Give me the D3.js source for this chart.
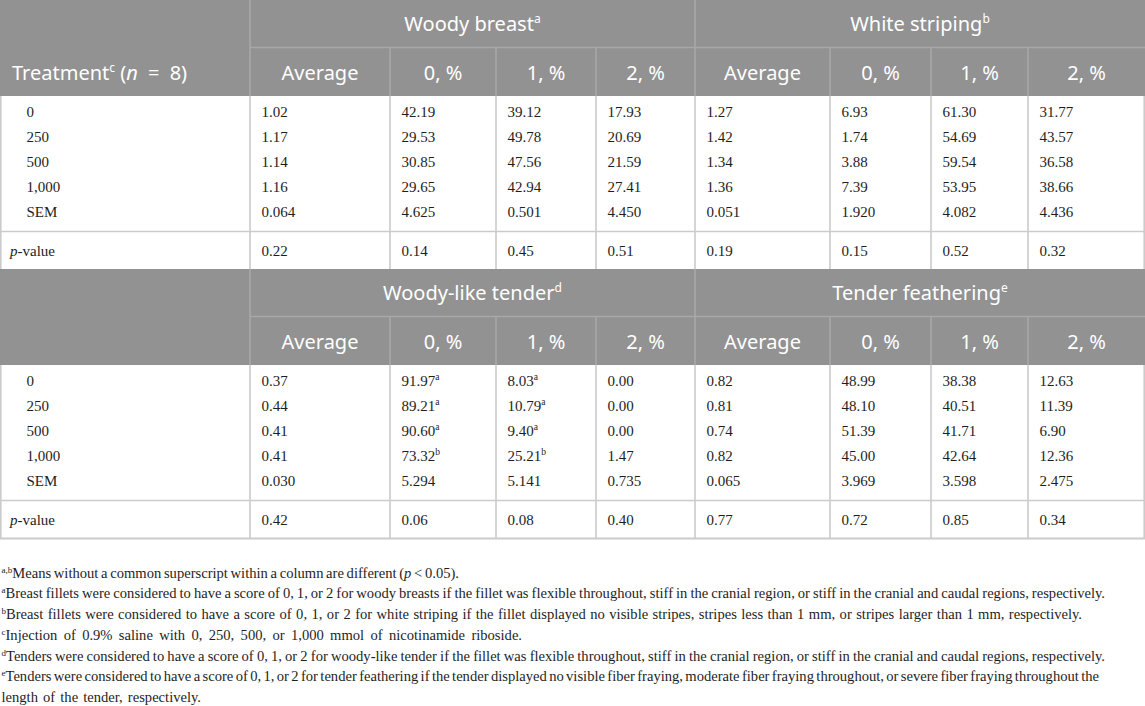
<!DOCTYPE html>
<html>
<head>
<meta charset="utf-8">
<script src="https://cdn.jsdelivr.net/npm/d3@7"></script>
<style>
  body { margin: 0; background: #fff; }
  svg { display: block; }
</style>
</head>
<body>
<script>
var treatments = ["0", "250", "500", "1,000", "SEM"];
var colLabels = ["Average", "0, %", "1, %", "2, %"];

var woodyBreast = [
  ["1.02", "42.19", "39.12", "17.93"],
  ["1.17", "29.53", "49.78", "20.69"],
  ["1.14", "30.85", "47.56", "21.59"],
  ["1.16", "29.65", "42.94", "27.41"],
  ["0.064", "4.625", "0.501", "4.450"]
];
var woodyBreastP = ["0.22", "0.14", "0.45", "0.51"];

var whiteStriping = [
  ["1.27", "6.93", "61.30", "31.77"],
  ["1.42", "1.74", "54.69", "43.57"],
  ["1.34", "3.88", "59.54", "36.58"],
  ["1.36", "7.39", "53.95", "38.66"],
  ["0.051", "1.920", "4.082", "4.436"]
];
var whiteStripingP = ["0.19", "0.15", "0.52", "0.32"];

var woodyLikeTender = [
  ["0.37", "91.97", "8.03", "0.00"],
  ["0.44", "89.21", "10.79", "0.00"],
  ["0.41", "90.60", "9.40", "0.00"],
  ["0.41", "73.32", "25.21", "1.47"],
  ["0.030", "5.294", "5.141", "0.735"]
];
var woodyLikeTenderSup = [
  ["", "a", "a", ""],
  ["", "a", "a", ""],
  ["", "a", "a", ""],
  ["", "b", "b", ""],
  ["", "", "", ""]
];
var woodyLikeTenderP = ["0.42", "0.06", "0.08", "0.40"];

var tenderFeathering = [
  ["0.82", "48.99", "38.38", "12.63"],
  ["0.81", "48.10", "40.51", "11.39"],
  ["0.74", "51.39", "41.71", "6.90"],
  ["0.82", "45.00", "42.64", "12.36"],
  ["0.065", "3.969", "3.598", "2.475"]
];
var tenderFeatheringP = ["0.77", "0.72", "0.85", "0.34"];

var footnotes = [
  {sup: "a,b", text: "Means without a common superscript within a column are different (", italic: "p", after: " < 0.05)."},
  {sup: "a", text: "Breast fillets were considered to have a score of 0, 1, or 2 for woody breasts if the fillet was flexible throughout, stiff in the cranial region, or stiff in the cranial and caudal regions, respectively."},
  {sup: "b", text: "Breast fillets were considered to have a score of 0, 1, or 2 for white striping if the fillet displayed no visible stripes, stripes less than 1 mm, or stripes larger than 1 mm, respectively."},
  {sup: "c", text: "Injection of 0.9% saline with 0, 250, 500, or 1,000 mmol of nicotinamide riboside."},
  {sup: "d", text: "Tenders were considered to have a score of 0, 1, or 2 for woody-like tender if the fillet was flexible throughout, stiff in the cranial region, or stiff in the cranial and caudal regions, respectively."},
  {sup: "e", text: "Tenders were considered to have a score of 0, 1, or 2 for tender feathering if the tender displayed no visible fiber fraying, moderate fiber fraying throughout, or severe fiber fraying throughout the"},
  {sup: "", text: "length of the tender, respectively."}
];
// right end of each footnote line in the picture
var footnoteEnds = [459, 1105, 1082, 522, 1105, 1099, 201];

// ---- layout ----
var width = 1145, height = 706;
var edges = [0, 250, 390, 496, 596, 695, 830, 931, 1028, 1145];
var headFill = "#929292", headLine = "#a8a8a8", gridLine = "#cbcbcb", ink = "#1e1e1e";
var sans = "'Noto Sans', 'Open Sans', sans-serif";
var serif = "'Liberation Serif', 'Times New Roman', serif";
var blockH = 269;

var svg = d3.select("body").append("svg")
    .attr("width", width)
    .attr("height", height);

// row positions inside a block
var y = d3.scalePoint()
    .domain(treatments)
    .range([117, 217]);

var tables = [
  {top: 0, groups: [
    {title: "Woody breast", sup: "a", rows: woodyBreast, p: woodyBreastP},
    {title: "White striping", sup: "b", rows: whiteStriping, p: whiteStripingP}
  ]},
  {top: blockH, groups: [
    {title: "Woody-like tender", sup: "d", rows: woodyLikeTender, p: woodyLikeTenderP, sups: woodyLikeTenderSup},
    {title: "Tender feathering", sup: "e", rows: tenderFeathering, p: tenderFeatheringP}
  ]}
];

tables.forEach(function(t, ti) {
  var g = svg.append("g").attr("transform", "translate(0," + t.top + ")");

  // header band
  g.append("rect")
      .attr("x", 0).attr("y", 0)
      .attr("width", width).attr("height", 96)
      .attr("fill", headFill);

  g.append("line")
      .attr("x1", 250).attr("x2", width)
      .attr("y1", 47.5).attr("y2", 47.5)
      .attr("stroke", headLine).attr("stroke-width", 1.5);

  // header verticals: full height at group borders, lower row otherwise
  edges.slice(1, -1).forEach(function(x, i) {
    var full = (x == 250 || x == 695);
    g.append("line")
        .attr("x1", x).attr("x2", x)
        .attr("y1", full ? 0 : 47.5).attr("y2", 96)
        .attr("stroke", headLine).attr("stroke-width", 1.5);
  });

  if (ti == 0) {
    var tr = g.append("text")
        .attr("x", 12).attr("y", 80)
        .attr("fill", "#fff")
        .style("font", "20px " + sans);
    tr.append("tspan").text("Treatment");
    tr.append("tspan").attr("dy", -8).style("font-size", "12px").text("c");
    tr.append("tspan").attr("dy", 8).text(" (");
    tr.append("tspan").style("font-style", "italic").text("n");
    tr.append("tspan").style("word-spacing", "5px").text(" = 8)");
  }

  t.groups.forEach(function(grp, gi) {
    var x0 = edges[1 + gi * 4], x1 = edges[5 + gi * 4];
    var title = g.append("text")
        .attr("x", (x0 + x1) / 2).attr("y", 31)
        .attr("text-anchor", "middle")
        .attr("fill", "#fff")
        .style("font", "20px " + sans);
    title.append("tspan").text(grp.title);
    title.append("tspan").attr("dy", -8).style("font-size", "12px").text(grp.sup);

    colLabels.forEach(function(lab, ci) {
      var c0 = edges[1 + gi * 4 + ci], c1 = edges[2 + gi * 4 + ci];
      g.append("text")
          .attr("x", (c0 + c1) / 2).attr("y", 80)
          .attr("text-anchor", "middle")
          .attr("fill", "#fff")
          .style("font", "20px " + sans)
          .text(lab);
    });

    // body cells
    grp.rows.forEach(function(row, ri) {
      row.forEach(function(v, ci) {
        var cx = edges[1 + gi * 4 + ci] + 11.5;
        var txt = g.append("text")
            .attr("x", cx).attr("y", y(treatments[ri]))
            .attr("fill", ink)
            .style("font", "15px " + serif);
        txt.append("tspan").text(v);
        var s = grp.sups ? grp.sups[ri][ci] : "";
        if (s) txt.append("tspan").attr("dy", -6).style("font-size", "9.5px").text(s);
      });
    });
    grp.p.forEach(function(v, ci) {
      g.append("text")
          .attr("x", edges[1 + gi * 4 + ci] + 11.5).attr("y", 256)
          .attr("fill", ink)
          .style("font", "15px " + serif)
          .text(v);
    });
  });

  // row labels
  treatments.forEach(function(lab) {
    g.append("text")
        .attr("x", 26.5).attr("y", y(lab))
        .attr("fill", ink)
        .style("font", "15px " + serif)
        .text(lab);
  });
  var pl = g.append("text")
      .attr("x", 10).attr("y", 256)
      .attr("fill", ink)
      .style("font", "15px " + serif);
  pl.append("tspan").style("font-style", "italic").text("p");
  pl.append("tspan").text("-value");

  // body grid
  edges.slice(1, -1).forEach(function(x) {
    g.append("line")
        .attr("x1", x).attr("x2", x)
        .attr("y1", 96).attr("y2", blockH)
        .attr("stroke", gridLine).attr("stroke-width", 1.6);
  });
  [0.8, width - 0.8].forEach(function(x) {
    g.append("line")
        .attr("x1", x).attr("x2", x)
        .attr("y1", 96).attr("y2", blockH)
        .attr("stroke", gridLine).attr("stroke-width", 1.6);
  });
  g.append("line")
      .attr("x1", 0).attr("x2", width)
      .attr("y1", 231.5).attr("y2", 231.5)
      .attr("stroke", gridLine).attr("stroke-width", 1.6);
  if (ti == tables.length - 1) {
    g.append("line")
        .attr("x1", 0).attr("x2", width)
        .attr("y1", blockH + 0.5).attr("y2", blockH + 0.5)
        .attr("stroke", gridLine).attr("stroke-width", 2);
  }
});

// ---- footnotes ----
var fn = svg.append("g");
var fnBase = d3.scaleLinear().domain([0, 6]).range([577.5, 702]);
var fs = 14;

var fnTexts = footnotes.map(function(f, i) {
  var t = fn.append("text")
      .attr("x", 1.5).attr("y", fnBase(i))
      .attr("fill", ink)
      .style("font-family", serif)
      .style("font-size", fs + "px");
  if (f.sup) {
    t.append("tspan").attr("dy", -5).style("font-size", "9px").text(f.sup);
    t.append("tspan").attr("dy", 5).text(f.text);
  } else {
    t.append("tspan").text(f.text);
  }
  if (f.italic) {
    t.append("tspan").style("font-style", "italic").text(f.italic);
    t.append("tspan").text(f.after);
  }
  return t;
});

// scale the font to the compact line, then spread words to the picture's line ends
var natural = fnTexts[1].node().getComputedTextLength();
fs = fs * (footnoteEnds[1] - 1.5) / natural * 1.02;
fnTexts.forEach(function(t, i) {
  t.style("font-size", fs + "px");
  var w = t.node().getComputedTextLength();
  var f = footnotes[i];
  var spaces = (f.text + (f.after || "")).split(" ").length - 1;
  var ws = (footnoteEnds[i] - 1.5 - w) / Math.max(spaces, 1);
  t.style("word-spacing", ws + "px");
});
</script>
</body>
</html>
